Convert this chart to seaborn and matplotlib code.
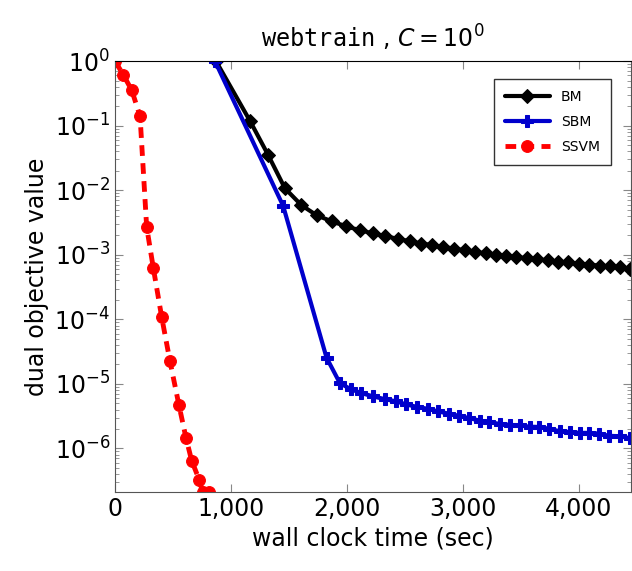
import numpy as np
import pandas as pd
import matplotlib
matplotlib.use("Agg")
import matplotlib.pyplot as plt
import matplotlib.ticker as mticker
import seaborn as sns

# values
bm_time = [871, 1164, 1322, 1466, 1609, 1739, 1868, 1997, 2112, 2227, 2328, 2443,
           2543, 2644, 2739, 2830, 2922, 3017, 3109, 3198, 3290, 3377, 3463, 3558,
           3644, 3736, 3822, 3908, 4003, 4089, 4181, 4267, 4359, 4440]
bm_obj = [1.0, 0.119, 0.0349, 0.0107, 5.85e-3, 4.1e-3, 3.3e-3, 2.75e-3, 2.4e-3,
          2.14e-3, 1.95e-3, 1.76e-3, 1.62e-3, 1.49e-3, 1.41e-3, 1.32e-3, 1.25e-3,
          1.17e-3, 1.11e-3, 1.05e-3, 1.0e-3, 9.5e-4, 9.2e-4, 8.8e-4, 8.5e-4, 8.2e-4,
          7.85e-4, 7.6e-4, 7.3e-4, 7.0e-4, 6.8e-4, 6.6e-4, 6.4e-4, 6.1e-4]

sbm_time = [862, 1451, 1825, 1940, 2032, 2126, 2227, 2328, 2428, 2514, 2606, 2701,
            2787, 2882, 2968, 3055, 3147, 3227, 3319, 3411, 3491, 3578, 3658, 3744,
            3836, 3922, 4009, 4089, 4175, 4261, 4359, 4446]
sbm_obj = [1.0, 5.7e-3, 2.55e-5, 1.03e-5, 8.3e-6, 7.2e-6, 6.4e-6, 5.8e-6, 5.35e-6,
           4.8e-6, 4.4e-6, 4.1e-6, 3.75e-6, 3.45e-6, 3.2e-6, 2.95e-6, 2.7e-6, 2.55e-6,
           2.4e-6, 2.32e-6, 2.27e-6, 2.17e-6, 2.15e-6, 2.02e-6, 1.85e-6, 1.8e-6,
           1.74e-6, 1.74e-6, 1.7e-6, 1.57e-6, 1.54e-6, 1.44e-6]

ssvm_time = [0, 72, 144, 216, 273, 330, 402, 474, 552, 612, 661, 727, 756, 813]
ssvm_obj = [1.0, 0.61, 0.355, 0.14, 2.7e-3, 6.3e-4, 1.1e-4, 2.25e-5, 4.65e-6,
            1.47e-6, 6.5e-7, 3.25e-7, 2.1e-7, 2.15e-7]

sns.set_style("ticks")
plt.rcParams['font.family'] = ['DejaVu Sans']
plt.rcParams['text.color'] = 'black'
plt.rcParams['axes.labelcolor'] = 'black'
plt.rcParams['xtick.labelcolor'] = 'black'
plt.rcParams['ytick.labelcolor'] = 'black'

fig = plt.figure(figsize=(6.32, 5.71), dpi=100)
ax = fig.add_axes([0.182, 0.138, 0.816, 0.755])

sns.lineplot(x=bm_time, y=bm_obj, ax=ax, sort=False, color='black', lw=3,
             marker='D', markersize=7.5, markeredgecolor='black', label='BM')
sns.lineplot(x=sbm_time, y=sbm_obj, ax=ax, sort=False, color='#0000cc', lw=3,
             marker='P', markersize=8, markeredgecolor='#0000cc', label='SBM')
sns.lineplot(x=ssvm_time, y=ssvm_obj, ax=ax, sort=False, color='red', lw=3.5,
             linestyle=(0, (2.2, 1.5)), marker='o', markersize=8.5,
             markeredgecolor='red', label='SSVM')

ax.set_yscale('log')
ax.set_xlim(0, 4450)
ax.set_ylim(2.1e-7, 1.0)
ax.set_xticks([0, 1000, 2000, 3000, 4000])
ax.xaxis.set_major_formatter(mticker.FuncFormatter(lambda v, p: f"{int(v):,}"))
ax.set_yticks([1e0, 1e-1, 1e-2, 1e-3, 1e-4, 1e-5, 1e-6])
ax.yaxis.set_minor_locator(mticker.LogLocator(base=10, subs=np.arange(2, 10)))
ax.yaxis.set_minor_formatter(mticker.NullFormatter())

ax.tick_params(which='both', direction='in', top=True, right=True, color='#888888')
ax.tick_params(which='major', length=6, labelsize=17)
ax.tick_params(which='minor', length=3)
for side in ['left', 'bottom', 'right']:
    ax.spines[side].set_color('#555555')
ax.spines['top'].set_color('black')

ax.set_xlabel('wall clock time (sec)', fontsize=17)
ax.set_ylabel('dual objective value', fontsize=17)
ax.set_title(r'$\mathtt{webtrain}$ , $C = 10^0$', fontsize=17, pad=10)

leg = ax.legend(loc='upper right', bbox_to_anchor=(0.975, 0.975), fontsize=10,
                frameon=True, fancybox=False, edgecolor='black', handlelength=3.2,
                borderpad=0.8, labelspacing=0.8)
leg.get_frame().set_linewidth(1.0)

fig.savefig('out.png', dpi=100)
